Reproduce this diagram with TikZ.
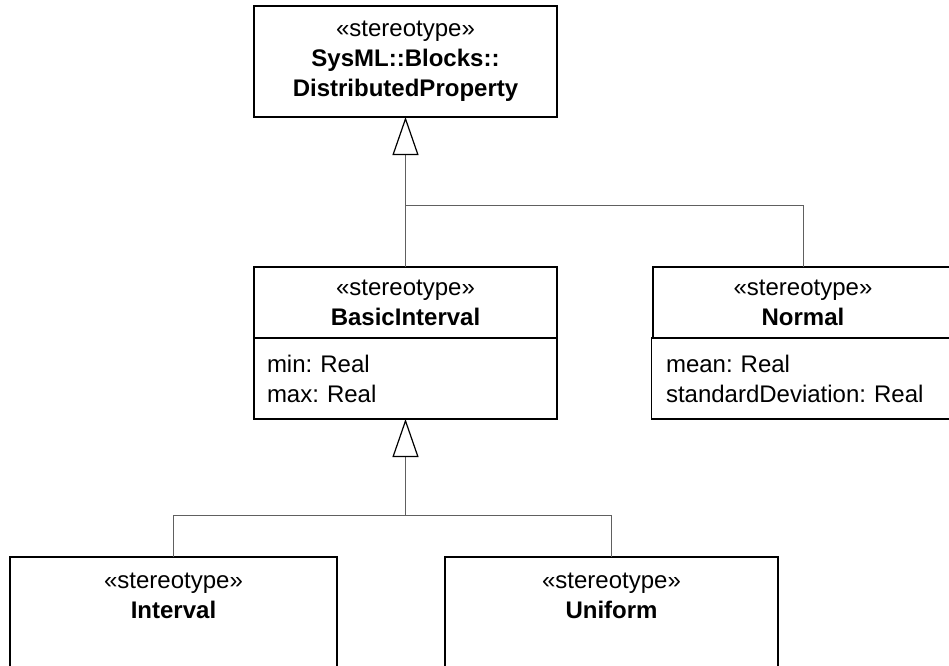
\documentclass[tikz,border=0pt]{standalone}
\usepackage{fontspec}
\setmainfont{Liberation Sans}
\usetikzlibrary{arrows.meta,positioning}
\frenchspacing

\begin{document}
\begin{tikzpicture}[
        x=1pt, y=1pt,
        font=\fontsize{24}{30}\selectfont,
        block/.style={rectangle, draw, line width=1.3pt, minimum width=303pt, align=center, inner sep=0pt, outer sep=0pt},
        head/.style={block, minimum height=71pt},
        attrs/.style={block, text width=277pt, align=left, minimum height=81pt, inner xsep=13pt},
        leaf/.style={block, anchor=north, inner ysep=16pt, text depth=100pt},
        generalization/.style={draw, gray!75!black, line width=1pt, -{Triangle[open, length=38pt, width=26pt, color=black, line width=1.2pt]}},
        line/.style={draw, gray!75!black, line width=1pt}
    ]

    \useasboundingbox (0,0) rectangle (949,-665);
    \clip (0,0) rectangle (949,-665);

    % Top stereotype
    \node [block, minimum height=111pt] (distprop) at (405.5,-61.5) {«stereotype»\\\textbf{SysML::Blocks::}\\\textbf{DistributedProperty}};

    % BasicInterval with attributes
    \node [head] (basic) at (405.5,-302.5) {«stereotype»\\\textbf{BasicInterval}};
    \node [attrs, below=0pt of basic] (basicattr) {min: Real\\max: Real};

    % Normal with attributes
    \node [head, minimum width=300pt] (normal) at (803,-302.5) {«stereotype»\\\textbf{Normal}};
    \node [attrs, text width=274pt, below=0pt of normal] (normalattr) {mean: Real\\standardDeviation: Real};

    % Leaf stereotypes
    \node [leaf, minimum width=327pt] (interval) at (173.5,-557) {«stereotype»\\\textbf{Interval}};
    \node [leaf, minimum width=333pt] (uniform) at (611.5,-557) {«stereotype»\\\textbf{Uniform}};

    % Junctions
    \coordinate (upper) at (405.5,-205);
    \coordinate (lower) at (405.5,-515);

    % Generalizations
    \path [generalization] (basic.north) -- (distprop.south);
    \path [line] (normal.north) |- (upper);
    \path [generalization] (lower) -- (basicattr.south);
    \path [line] (interval.north) |- (lower);
    \path [line] (uniform.north) |- (lower);

\end{tikzpicture}
\end{document}
